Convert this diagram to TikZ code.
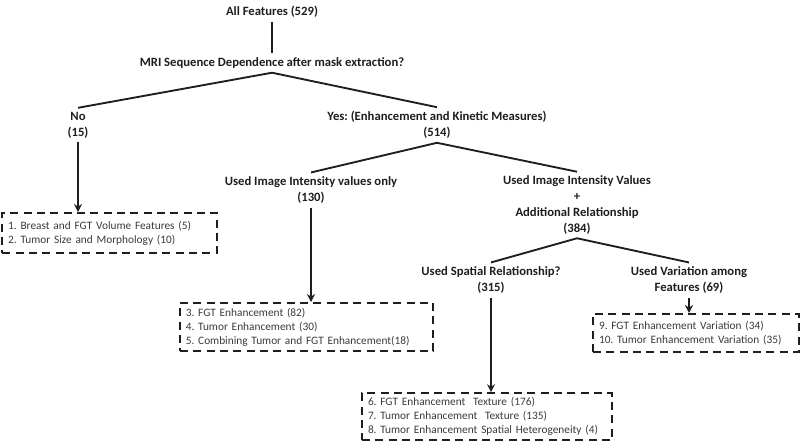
\documentclass[tikz,border=0pt]{standalone}
\usepackage{fontspec}
\setmainfont{Carlito}
\usetikzlibrary{arrows.meta}
\definecolor{tinta}{HTML}{1E1E1E}
\definecolor{cinza}{HTML}{3A3A3A}
\frenchspacing
\begin{document}
\begin{tikzpicture}[
                x=0.75pt, y=-0.75pt,
                titulo/.style={text=tinta, align=center, inner sep=3pt,
                    font=\fontsize{9.5}{11.8}\selectfont\bfseries},
                caixa/.style={draw=tinta, line width=1.5pt, dash pattern=on 6pt off 4pt,
                    text=cinza, align=left, inner xsep=4.5pt, inner ysep=0pt,
                    font=\fontsize{8.5}{10.5}\selectfont},
                aresta/.style={draw=tinta, line width=1.4pt},
                seta/.style={aresta, -{Stealth[length=6pt, width=6pt]}},
            ]
            \useasboundingbox (0, 0) rectangle (800, 443);

            \node[titulo] (todas) at (272, 12) {All Features (529)};
            \node[titulo] (mri) at (272, 63) {MRI Sequence Dependence after mask extraction?};
            \node[titulo] (nao) at (78, 125) {No\\(15)};
            \node[titulo] (sim) at (437, 125) {Yes: (Enhancement and Kinetic Measures)\\(514)};
            \node[titulo] (so) at (311, 190) {Used Image Intensity values only\\(130)};
            \node[titulo] (mais) at (577, 205) {Used Image Intensity Values\\+\\Additional Relationship\\(384)};
            \node[titulo] (espacial) at (491, 280) {Used Spatial Relationship?\\(315)};
            \node[titulo] (variacao) at (689, 280) {Used Variation among\\Features (69)};

            \node[caixa, text width=152pt, minimum height=30pt] (c1) at (109.5, 233)
                {1. Breast and FGT Volume Features (5)\\2. Tumor Size and Morphology (10)};
            \node[caixa, text width=181pt, minimum height=36pt] (c2) at (306.5, 327)
                {3. FGT Enhancement (82)\\4. Tumor Enhancement (30)\\5. Combining Tumor and FGT Enhancement(18)};
            \node[caixa, text width=178.5pt, minimum height=35pt] (c3) at (487, 416.5)
                {6. FGT Enhancement\ \ Texture (176)\\7. Tumor Enhancement\ \ Texture (135)\\8. Tumor Enhancement Spatial Heterogeneity (4)};
            \node[caixa, text width=145.5pt, minimum height=28.5pt] (c4) at (696, 333)
                {9. FGT Enhancement Variation (34)\\10. Tumor Enhancement Variation (35)};

            \draw[aresta] (todas) -- (mri);
            \draw[aresta] (mri.south) -- (nao.north);
            \draw[aresta] (mri.south) -- (sim.north);
            \draw[aresta] (sim.south) -- (so.north);
            \draw[aresta] (sim.south) -- (mais.north);
            \draw[aresta] (mais.south) -- (espacial.north);
            \draw[aresta] (mais.south) -- (variacao.north);

            \draw[seta] (nao.south) -- (nao.south |- c1.north);
            \draw[seta] (so.south) -- (so.south |- c2.north);
            \draw[seta] (espacial.south) -- (espacial.south |- c3.north);
            \draw[seta] (variacao.south) -- (variacao.south |- c4.north);
        \end{tikzpicture}
\end{document}
